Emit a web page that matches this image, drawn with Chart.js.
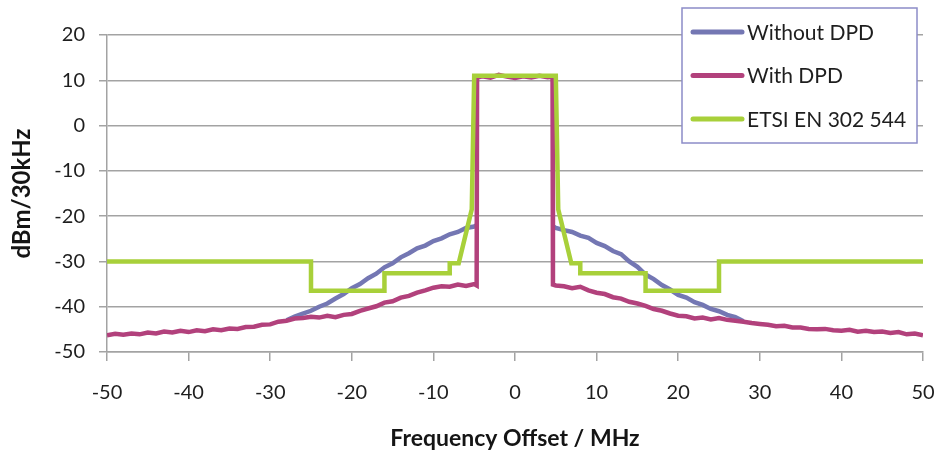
<!DOCTYPE html>
<html>
<head>
<meta charset="utf-8">
<script src="https://cdn.jsdelivr.net/npm/chart.js@4.4.1/dist/chart.umd.min.js"></script>
<style>
  body { margin: 0; background: #fff; }
  #wrap { width: 938px; height: 456px; }
</style>
</head>
<body>
<div id="wrap"><canvas id="grafico" width="938" height="456"></canvas></div>
<script>
// eixos
const xTicks = [-50, -40, -30, -20, -10, 0, 10, 20, 30, 40, 50];
const yTicks = [-50, -40, -30, -20, -10, 0, 10, 20];

// With DPD
const freqComDpd = [
  -50, -49, -48, -47, -46, -45, -44, -43, -42, -41, -40, -39, -38, -37, -36, -35, -34, -33, -32, -31,
  -30, -29, -28, -27, -26, -25, -24, -23, -22, -21, -20, -19, -18, -17, -16, -15, -14, -13, -12, -11,
  -10, -9, -8, -7, -6, -5, -4.7, -4.65, -4, -3, -2, -1, 0, 1, 2, 3, 4, 4.6, 4.65,
  5, 6, 7, 8, 9, 10, 11, 12, 13, 14, 15, 16, 17, 18, 19, 20, 21, 22, 23, 24, 25,
  26, 27, 28, 29, 30, 31, 32, 33, 34, 35, 36, 37, 38, 39, 40, 41, 42, 43, 44, 45, 46, 47, 48, 49, 50
];
const nivelComDpd = [
  -46.3, -46.0, -46.2, -45.9, -46.1, -45.7, -45.9, -45.5, -45.7, -45.3, -45.6, -45.2, -45.4, -45.0, -45.2, -44.8, -44.9, -44.5, -44.4, -44.0,
  -43.9, -43.3, -43.1, -42.6, -42.5, -42.2, -42.4, -42.0, -42.3, -41.8, -41.6, -40.9, -40.4, -39.9, -39.1, -38.8, -38.0, -37.6, -36.9, -36.4,
  -35.8, -35.5, -35.6, -35.1, -35.4, -35.0, -35.3, 10.6, 10.9, 10.6, 11.2, 10.8, 10.5, 10.9, 10.6, 11.0, 10.7, 10.8, -35.1,
  -35.3, -35.5, -35.9, -35.6, -36.4, -36.9, -37.2, -37.9, -38.2, -38.9, -39.3, -39.8, -40.5, -40.9, -41.5, -42.0, -42.1, -42.6, -42.4, -42.8, -42.5,
  -42.9, -43.1, -43.3, -43.6, -43.8, -44.0, -44.3, -44.2, -44.6, -44.6, -44.9, -45.0, -44.9, -45.2, -45.3, -45.1, -45.5, -45.3, -45.6, -45.5, -45.8, -45.6, -46.1, -45.9, -46.3
];

// Without DPD (só a parte visível; o resto fica sob a curva With DPD)
const freqSemDpd = [
  -28, -27, -26, -25, -24, -23, -22, -21, -20, -19, -18, -17, -16, -15, -14, -13, -12, -11, -10, -9, -8, -7, -6, -5, -4.7,
  null,
  4.7, 5, 6, 7, 8, 9, 10, 11, 12, 13, 14, 15, 16, 17, 18, 19, 20, 21, 22, 23, 24, 25, 26, 27, 28
];
const nivelSemDpd = [
  -43.0, -42.2, -41.5, -40.9, -40.0, -39.3, -38.2, -37.2, -35.9, -35.0, -33.7, -32.7, -31.3, -30.4, -29.1, -28.2, -27.1, -26.5, -25.5, -24.9, -24.0, -23.5, -22.6, -22.3, -22.0,
  null,
  -22.3, -22.6, -23.1, -23.5, -24.3, -24.8, -25.9, -26.6, -27.7, -28.4, -30.0, -31.2, -32.9, -33.9, -35.2, -36.2, -37.4, -38.0, -39.0, -39.6, -40.5, -41.0, -41.8, -42.3, -43.2
];

// ETSI EN 302 544 (máscara)
const freqMascara = [-50, -25, -25, -16, -16, -8, -8, -6.9, -5.3, -5, 5, 5.3, 6.9, 8, 8, 16, 16, 25, 25, 50];
const nivelMascara = [-30, -30, -36.5, -36.5, -32.6, -32.6, -30.4, -30.4, -18.5, 11, 11, -18.5, -30.4, -30.4, -32.6, -32.6, -36.5, -36.5, -30, -30];

const rotulos = ['Without DPD', 'With DPD', 'ETSI EN 302 544'];
const cores = ['#7477b3', '#b2417c', '#a8d03a'];

function pontos(xs, ys) {
  return xs.map((x, i) => (x === null ? { x: NaN, y: null } : { x: x, y: ys[i] }));
}

// legenda desenhada à mão, caixa no canto superior direito
const legendaCaixa = {
  id: 'legendaCaixa',
  afterDraw(chart) {
    const ctx = chart.ctx;
    const bx = 682, by = 8, bw = 235, bh = 135;
    ctx.save();
    ctx.fillStyle = '#fff';
    ctx.fillRect(bx, by, bw, bh);
    ctx.strokeStyle = '#8c8cc8';
    ctx.lineWidth = 1.5;
    ctx.strokeRect(bx, by, bw, bh);
    ctx.font = '21px Lato';
    ctx.textBaseline = 'middle';
    ctx.lineCap = 'round';
    chart.data.datasets.forEach((ds, i) => {
      const y = 32 + i * 43.5;
      ctx.strokeStyle = ds.borderColor;
      ctx.lineWidth = 5;
      ctx.beginPath();
      ctx.moveTo(693, y);
      ctx.lineTo(742, y);
      ctx.stroke();
      ctx.fillStyle = '#1e1e1e';
      ctx.fillText(ds.label, 747, y + 1);
    });
    ctx.restore();
  }
};

const corGrade = '#a3a3a3';

new Chart(document.getElementById('grafico'), {
  type: 'line',
  data: {
    datasets: [
      { label: rotulos[0], data: pontos(freqSemDpd, nivelSemDpd), borderColor: cores[0], borderWidth: 4.5, order: 3, spanGaps: false },
      { label: rotulos[1], data: pontos(freqComDpd, nivelComDpd), borderColor: cores[1], borderWidth: 4.5, order: 2 },
      { label: rotulos[2], data: pontos(freqMascara, nivelMascara), borderColor: cores[2], borderWidth: 4.5, order: 1 }
    ]
  },
  options: {
    responsive: false,
    animation: false,
    events: [],
    elements: { point: { radius: 0 }, line: { tension: 0 } },
    layout: { padding: { top: 35, right: 15, left: 0, bottom: 0 } },
    plugins: { legend: { display: false }, tooltip: { enabled: false } },
    scales: {
      x: {
        type: 'linear',
        min: -50,
        max: 50,
        afterBuildTicks: s => { s.ticks = xTicks.map(v => ({ value: v })); },
        afterFit: s => { s.height = 104; s.paddingLeft = 0; s.paddingRight = 0; },
        grid: { drawOnChartArea: false, drawTicks: true, tickLength: 9, color: corGrade, lineWidth: 1.5 },
        border: { display: true, color: corGrade, width: 1.5 },
        ticks: { font: { family: 'Lato', size: 20 }, color: '#1e1e1e', padding: 20, maxRotation: 0 },
        title: { display: true, text: 'Frequency Offset / MHz', font: { family: 'Lato', size: 23, weight: 'bold' }, color: '#151515', padding: { top: 0, bottom: 4 } }
      },
      y: {
        min: -50,
        max: 20,
        afterBuildTicks: s => { s.ticks = yTicks.map(v => ({ value: v })); },
        afterFit: s => { s.width = 107; },
        grid: { drawTicks: true, tickLength: 8, color: corGrade, lineWidth: 1.5 },
        border: { display: true, color: corGrade, width: 1.5 },
        ticks: { font: { family: 'Lato', size: 20 }, color: '#1e1e1e', padding: 14 },
        title: { display: true, text: 'dBm/30kHz', font: { family: 'Lato', size: 24, weight: 'bold' }, color: '#151515', padding: { top: 8, bottom: 0 } }
      }
    }
  },
  plugins: [legendaCaixa]
});
</script>
</body>
</html>
